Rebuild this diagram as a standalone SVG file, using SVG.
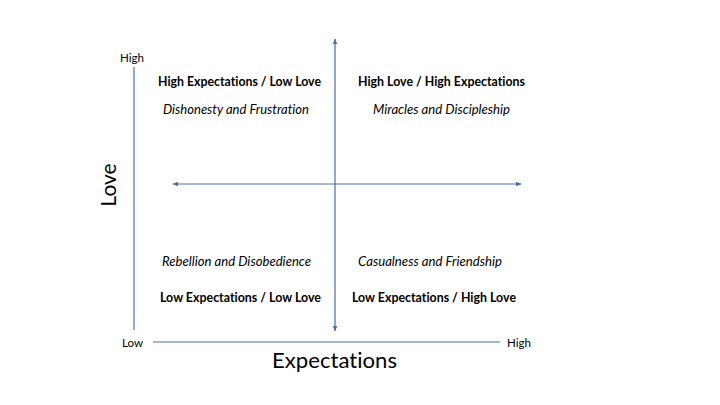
<svg xmlns="http://www.w3.org/2000/svg" width="720" height="405" viewBox="0 0 720 405">
<style>
.ax{stroke:#4a6fa8;stroke-width:1.2;fill:none}
.t{font-family:Lato,"Open Sans","Liberation Sans",sans-serif;fill:#000;font-variant-ligatures:none;font-feature-settings:"liga" 0}
.b{font-weight:bold;font-size:13px}
.i{font-style:italic;font-size:13px}
.s{font-size:12px}
.big{font-size:21px}
</style>
<defs>
<marker id="ah" viewBox="0 0 10 10" refX="9" refY="5" markerWidth="6" markerHeight="6" orient="auto-start-reverse" markerUnits="userSpaceOnUse">
<path d="M0,1 L10,5 L0,9 z" fill="#4a6fa8"/>
</marker>
</defs>
<rect width="720" height="405" fill="#fff"/>
<g id="connectors">
<line class="ax" x1="134" y1="67" x2="134" y2="330"/>
<line class="ax" x1="153" y1="342" x2="500" y2="342"/>
<line class="ax" x1="335" y1="39" x2="335" y2="331" marker-start="url(#ah)" marker-end="url(#ah)"/>
<line class="ax" x1="173" y1="184" x2="521" y2="184" marker-start="url(#ah)" marker-end="url(#ah)"/>
</g>
<g id="axis-labels">
<text class="t s" x="120" y="62" textLength="24" lengthAdjust="spacingAndGlyphs">High</text>
<text class="t s" x="122" y="347" textLength="21" lengthAdjust="spacingAndGlyphs">Low</text>
<text class="t s" x="507" y="347" textLength="24" lengthAdjust="spacingAndGlyphs">High</text>
<text class="t big" x="272" y="368" textLength="125" lengthAdjust="spacingAndGlyphs">Expectations</text>
<text class="t big" transform="translate(116,185) rotate(-90)" text-anchor="middle">Love</text>
</g>
<g id="q-top-left">
<text class="t b" x="158" y="86" textLength="163" lengthAdjust="spacingAndGlyphs">High Expectations / Low Love</text>
<text class="t i" x="163" y="114" textLength="146" lengthAdjust="spacingAndGlyphs">Dishonesty and Frustration</text>
</g>
<g id="q-top-right">
<text class="t b" x="358" y="86" textLength="167" lengthAdjust="spacingAndGlyphs">High Love / High Expectations</text>
<text class="t i" x="373" y="114" textLength="137" lengthAdjust="spacingAndGlyphs">Miracles and Discipleship</text>
</g>
<g id="q-bottom-left">
<text class="t i" x="162" y="266" textLength="149" lengthAdjust="spacingAndGlyphs">Rebellion and Disobedience</text>
<text class="t b" x="160" y="302" textLength="161" lengthAdjust="spacingAndGlyphs">Low Expectations / Low Love</text>
</g>
<g id="q-bottom-right">
<text class="t i" x="358" y="266" textLength="144" lengthAdjust="spacingAndGlyphs">Casualness and Friendship</text>
<text class="t b" x="352" y="302" textLength="164" lengthAdjust="spacingAndGlyphs">Low Expectations / High Love</text>
</g>
</svg>
